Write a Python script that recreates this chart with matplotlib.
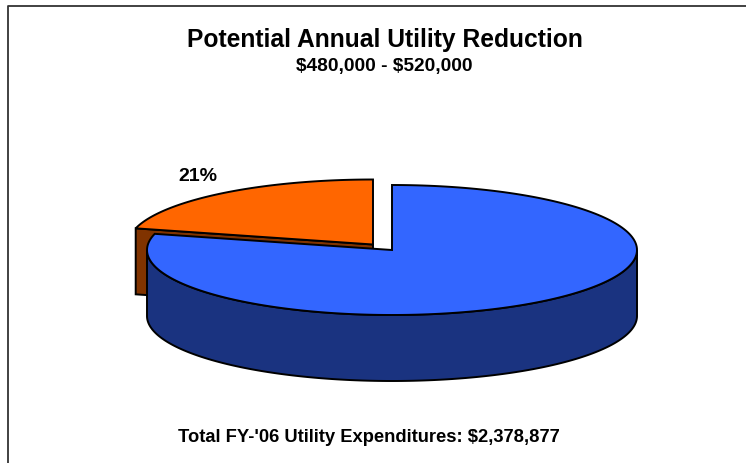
#!/usr/bin/env python
# exploded 3d style pie, drawn by hand since matplotlib has no 3d pie
import numpy as np
import matplotlib.pyplot as plt

plt.rcParams['font.family'] = ['Liberation Sans', 'DejaVu Sans']

shares = [21, 79]
slice_labels = ['21%', '']
top_colors = ['#FF6600', '#3366FF']
side_colors = ['#803300', '#1A3380']
title = 'Potential Annual Utility Reduction'
subtitle = r'\$480,000 - \$520,000'
footer = r"Total FY-'06 Utility Expenditures: \$2,378,877"

rx, ry = 245, 65
depth = 66
blue_c = (392, 250)
orange_c = (373, 244.5)


def arc(c, t0, t1, n=200):
    t = np.radians(np.linspace(t0, t1, n))
    return c[0] + rx * np.cos(t), c[1] - ry * np.sin(t)


fig = plt.figure(figsize=(7.46, 4.63), dpi=100)
ax = fig.add_axes([0, 0, 1, 1])
ax.set_xlim(0, 746)
ax.set_ylim(463, 0)
ax.axis('off')

# chart frame, cut by the edge of the image
ax.plot([7.5, 7.5, 746], [463, 6, 6], color='#333333', lw=1.3)

angle = 360 * shares[0] / sum(shares)
lw = 1.4

# orange slice, pulled out to the left
xs, ys = arc(orange_c, 90, 90 + angle)
ax.fill([xs[-1], xs[-1], orange_c[0], orange_c[0]],
        [ys[-1], ys[-1] + depth, orange_c[1] + depth, orange_c[1]],
        fc=side_colors[0], ec='black', lw=lw)
ax.fill(np.r_[orange_c[0], xs], np.r_[orange_c[1], ys],
        fc=top_colors[0], ec='black', lw=lw)

# blue side wall, front half only
xs, ys = arc(blue_c, 180, 360)
ax.fill(np.r_[xs, xs[::-1]], np.r_[ys, ys[::-1] + depth],
        fc=side_colors[1], ec='black', lw=lw)

# blue top
xs, ys = arc(blue_c, 90 + angle, 450)
ax.fill(np.r_[blue_c[0], xs], np.r_[blue_c[1], ys],
        fc=top_colors[1], ec='black', lw=lw)

ax.text(198, 176.5, slice_labels[0], ha='center', va='center',
        fontsize=14, fontweight='bold')
ax.text(384.5, 39.5, title, ha='center', va='center', fontsize=17.75, fontweight='bold')
ax.text(384.5, 66, subtitle, ha='center', va='center', fontsize=13.75, fontweight='bold')
ax.text(368.5, 437.5, footer, ha='center', va='center', fontsize=13.25, fontweight='bold')

fig.savefig('out.png', dpi=100)
